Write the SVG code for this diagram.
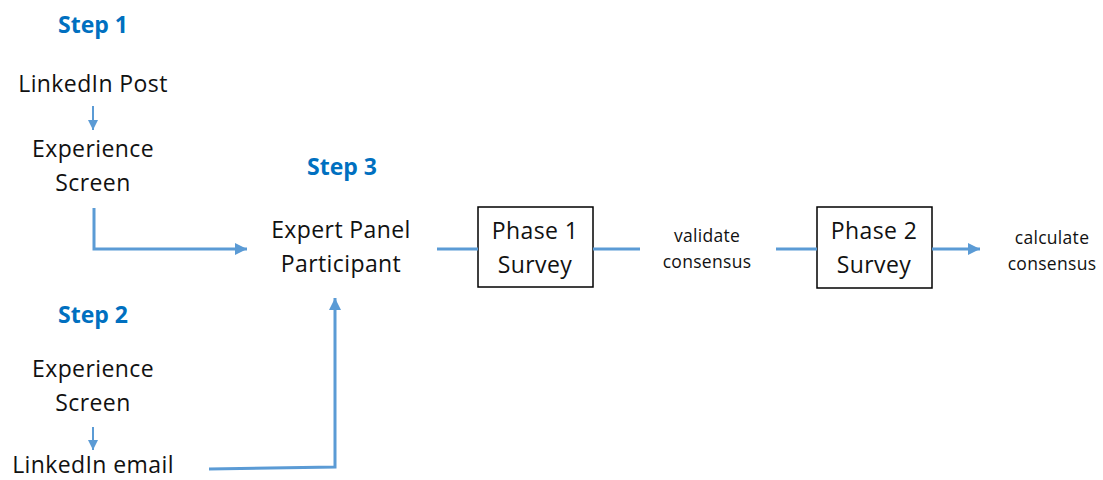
<svg xmlns="http://www.w3.org/2000/svg" width="1103" height="480" viewBox="0 0 1103 480">
<style>
.t{font-family:"Open Sans","Liberation Sans",sans-serif;font-size:23px;letter-spacing:0.4px;fill:#111;text-anchor:middle}
.s{font-family:"Open Sans","Liberation Sans",sans-serif;font-size:17.5px;letter-spacing:0.3px;fill:#111;text-anchor:middle}
.h{font-family:"Open Sans","Liberation Sans",sans-serif;font-size:23px;font-weight:bold;fill:#0070C0;text-anchor:middle}
.c{stroke:#5B9BD5;stroke-width:3;fill:none}
.c2{stroke:#5B9BD5;stroke-width:2;fill:none}
.b{fill:#fff;stroke:#000;stroke-width:1.5}
</style>
<defs>
<marker id="a" viewBox="0 0 10 10" refX="10" refY="5" markerWidth="4" markerHeight="4" orient="auto" markerUnits="strokeWidth"><path d="M0,0L10,5L0,10z" fill="#5B9BD5"/></marker>
<marker id="a2" viewBox="0 0 10 10" refX="10" refY="5" markerWidth="5" markerHeight="5" orient="auto" markerUnits="strokeWidth"><path d="M0,0L10,5L0,10z" fill="#5B9BD5"/></marker>
</defs>
<g id="step1-label"><text class="h" x="93" y="33">Step 1</text></g>
<g id="linkedin-post"><text class="t" x="93" y="92">LinkedIn Post</text></g>
<g id="exp-screen-1"><text class="t" x="93" y="157">Experience</text><text class="t" x="93" y="191">Screen</text></g>
<g id="step2-label"><text class="h" x="93" y="323">Step 2</text></g>
<g id="exp-screen-2"><text class="t" x="93" y="377">Experience</text><text class="t" x="93" y="411">Screen</text></g>
<g id="linkedin-email"><text class="t" x="93" y="473">LinkedIn email</text></g>
<g id="step3-label"><text class="h" x="342" y="175">Step 3</text></g>
<g id="expert-panel"><text class="t" x="341" y="238">Expert Panel</text><text class="t" x="341" y="272">Participant</text></g>
<g id="phase1"><rect class="b" x="478" y="207" width="115" height="80"/><text class="t" x="535" y="239">Phase 1</text><text class="t" x="535" y="273">Survey</text></g>
<g id="validate"><text class="s" x="707" y="242">validate</text><text class="s" x="707" y="268">consensus</text></g>
<g id="phase2"><rect class="b" x="817" y="207" width="115" height="81"/><text class="t" x="874" y="239">Phase 2</text><text class="t" x="874" y="273">Survey</text></g>
<g id="calculate"><text class="s" x="1052" y="244">calculate</text><text class="s" x="1052" y="270">consensus</text></g>
<g id="connectors">
<path class="c2" d="M93,106V130" marker-end="url(#a2)"/>
<path class="c2" d="M93,427V450" marker-end="url(#a2)"/>
<path class="c" d="M94,208V249H247" marker-end="url(#a)"/>
<path class="c" d="M209,469L335,467V298" marker-end="url(#a)"/>
<path class="c" d="M437,249H478"/>
<path class="c" d="M593,249H640"/>
<path class="c" d="M776,249H817"/>
<path class="c" d="M932,249H980" marker-end="url(#a)"/>
</g>
</svg>
